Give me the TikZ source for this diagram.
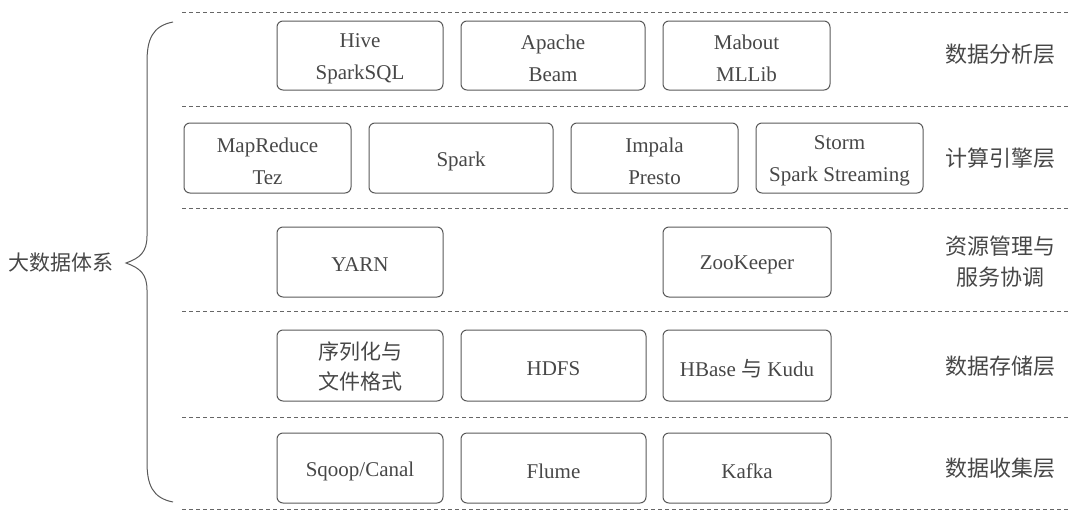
\documentclass[tikz,border=0pt]{standalone}
\usepackage{fontspec}
\setmainfont{Liberation Serif}
\newfontfamily\cjk{Noto Sans CJK SC}
\begin{document}
\begin{tikzpicture}[x=1pt,y=-1pt,
  every node/.style={text=black!72, font=\fontsize{21}{32}\selectfont, align=center},
  box/.style={draw=black!65, line width=1pt, rounded corners=6pt, inner sep=0pt},
  sep/.style={draw=black!60, line width=0.9pt, dash pattern=on 4pt off 3pt},
  lab/.style={font=\fontsize{22}{31}\selectfont\cjk, align=center}]
\useasboundingbox (0,0) rectangle (1069,512);
% separators
\foreach \y/\n in {12/s0,106/s1,208/s2,311/s3,417/s4,509/s5}{
  \coordinate (\n a) at (182,\y); \coordinate (\n b) at (1069,\y);
  \draw[sep] (\n a) -- (\n b);
}
% helper macro for boxes: box shape + centred text label shifted slightly down
\newcommand{\bx}[7][]{\node[box, minimum width=#4-#3, minimum height=#6-#5,
  label={[yshift=-3pt,#1]center:#7}] (#2) at ({(#3+#4)/2},{(#5+#6)/2}) {};}
% row 1
\bx{hive}{277}{443}{21}{90}{Hive\\SparkSQL}
\bx{beam}{461}{645}{21}{90}{Apache\\Beam}
\bx{mahout}{663}{830}{21}{90}{Mabout\\MLLib}
% row 2
\bx{mr}{184}{351}{123}{193}{MapReduce\\Tez}
\bx{spark}{369}{553}{123}{193}{Spark}
\bx{impala}{571}{738}{123}{193}{Impala\\Presto}
\bx{storm}{756}{923}{123}{193}{Storm\\Spark Streaming}
% row 3
\bx{yarn}{277}{443}{227}{297}{YARN}
\bx{zk}{663}{831}{227}{297}{ZooKeeper}
% row 4
\bx[yshift=2pt,font=\fontsize{21}{30}\selectfont\cjk]{ser}{277}{443}{330}{401}{序列化与\\文件格式}
\bx{hdfs}{461}{646}{330}{401}{HDFS}
\bx{hbase}{663}{831}{330}{401}{HBase {\cjk 与} Kudu}
% row 5
\bx{sqoop}{277}{443}{433}{503}{Sqoop/Canal}
\bx{flume}{461}{646}{433}{503}{Flume}
\bx{kafka}{663}{831}{433}{503}{Kafka}
% right labels
\node[lab] (l1) at (1000,54) {数据分析层};
\node[lab] (l2) at (1000,158) {计算引擎层};
\node[lab] (l3) at (1000,262) {资源管理与\\服务协调};
\node[lab] (l4) at (1000,366) {数据存储层};
\node[lab] (l5) at (1000,468) {数据收集层};
% left label and brace
\node[font=\fontsize{21}{31}\selectfont\cjk, anchor=east] (big) at (117,263) {大数据体系};
\coordinate (bt) at (173,22);
\coordinate (bb) at (173,502);
\coordinate (tip) at (126,263);
\draw[black!65, line width=1pt] (bt) .. controls (152,26) and (147,40) .. (147,62)
  -- (147,236) .. controls (147,252) and (140,258) .. (tip)
  .. controls (140,268) and (147,274) .. (147,290)
  -- (147,462) .. controls (147,484) and (152,498) .. (bb);
\end{tikzpicture}
\end{document}
